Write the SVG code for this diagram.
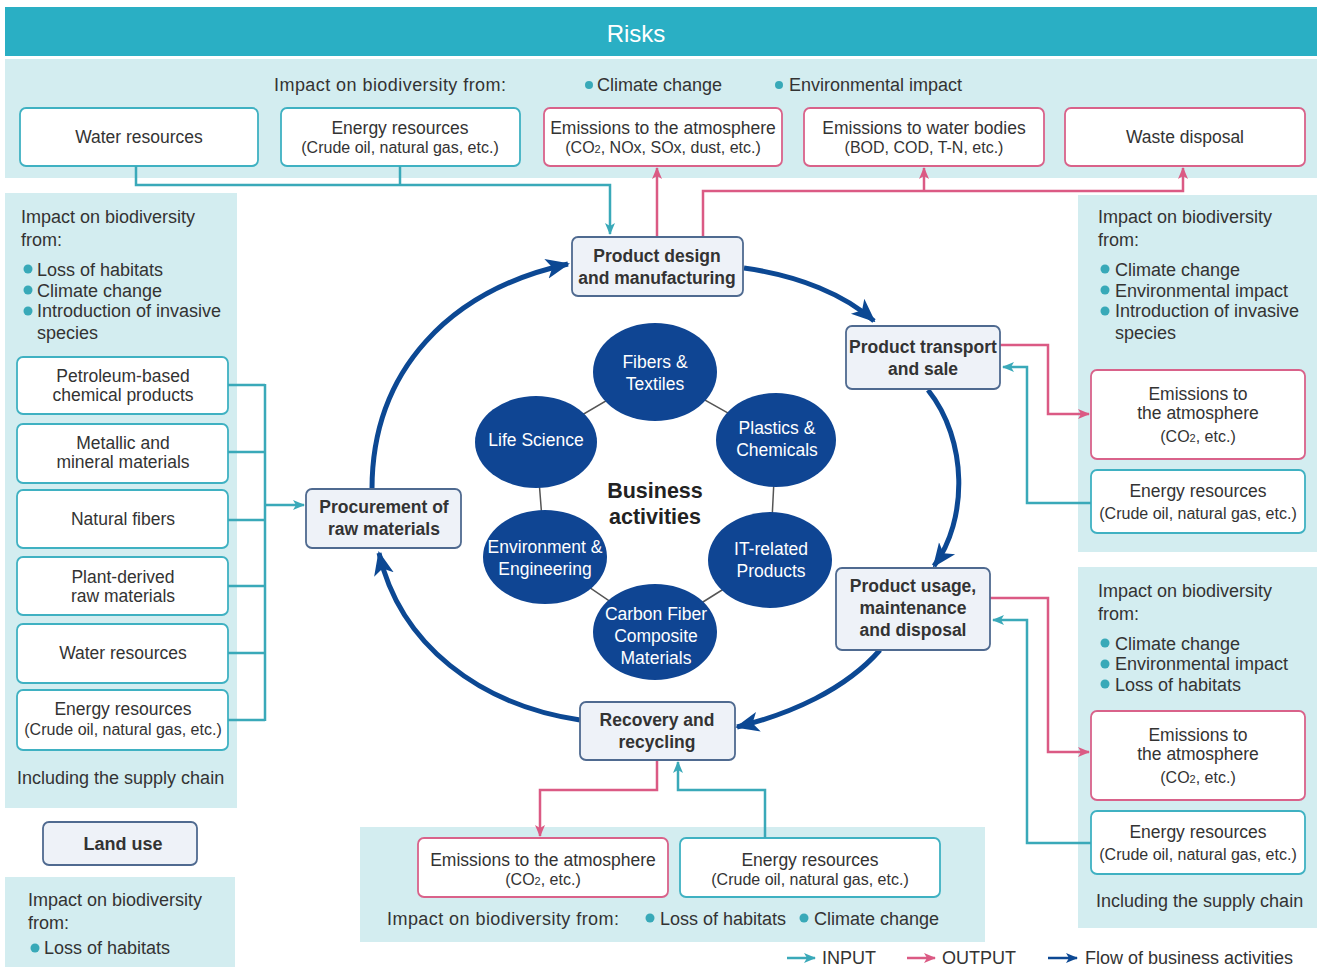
<svg xmlns="http://www.w3.org/2000/svg" width="1317" height="967" viewBox="0 0 1317 967">
<defs>
<style>
text{font-family:"Liberation Sans",Arial,sans-serif;fill:#333}
.t{font-size:17.5px;text-anchor:middle}
.s{font-size:16px}
.l{font-size:18px}
.b{font-size:17.5px;font-weight:bold;text-anchor:middle;fill:#333}
.w{font-size:17.5px;text-anchor:middle;fill:#fff}
.panel{fill:#d3edf0}
.bt{fill:#fff;stroke:#3fb1c2;stroke-width:1.8}
.bp{fill:#fff;stroke:#d9628a;stroke-width:1.8}
.proc{fill:#eef2f8;stroke:#4f6a90;stroke-width:1.8}
.ell{fill:#0f4593}
.dot{fill:#38a9b8}
.ci{fill:none;stroke:#3aa9b9;stroke-width:2.5}
.co{fill:none;stroke:#db5a84;stroke-width:2.5}
.cf{fill:none;stroke:#0c4893;stroke-width:5}
.lk{stroke:#555;stroke-width:1.5}
</style>
<marker id="ai" markerUnits="userSpaceOnUse" markerWidth="12" markerHeight="12" viewBox="0 0 12 12" refX="11" refY="6" orient="auto"><path d="M0,1 L12,6 L0,11 L3,6 Z" fill="#3aa9b9"/></marker>
<marker id="ao" markerUnits="userSpaceOnUse" markerWidth="12" markerHeight="12" viewBox="0 0 12 12" refX="11" refY="6" orient="auto"><path d="M0,1 L12,6 L0,11 L3,6 Z" fill="#db5a84"/></marker>
<marker id="ab" markerUnits="userSpaceOnUse" markerWidth="12" markerHeight="12" viewBox="0 0 12 12" refX="11" refY="6" orient="auto"><path d="M0,1 L12,6 L0,11 L3,6 Z" fill="#0c4893"/></marker>
<marker id="af" markerUnits="userSpaceOnUse" markerWidth="24" markerHeight="24" viewBox="0 0 24 24" refX="22" refY="12" orient="auto"><path d="M0,2 L24,12 L0,22 L6,12 Z" fill="#0c4893"/></marker>
</defs>
<rect width="1317" height="967" fill="#fff"/>

<g id="header">
<rect x="5" y="7" width="1312" height="49" fill="#2aafc4"/>
<text x="636" y="42" style="font-size:24px;text-anchor:middle;fill:#fff">Risks</text>
</g>

<g id="panels">
<rect class="panel" x="5" y="59" width="1312" height="119"/>
<rect class="panel" x="5" y="193" width="232" height="615"/>
<rect class="panel" x="1078" y="195" width="239" height="357"/>
<rect class="panel" x="1078" y="567" width="239" height="361"/>
<rect class="panel" x="5" y="877" width="230" height="90"/>
<rect class="panel" x="360" y="827" width="625" height="115"/>
</g>

<g id="top-labels">
<text class="l" x="274" y="91" textLength="232">Impact on biodiversity from:</text>
<circle class="dot" cx="589" cy="85" r="4"/><text class="l" x="597" y="91">Climate change</text>
<circle class="dot" cx="779" cy="85" r="4"/><text class="l" x="789" y="91">Environmental impact</text>
</g>

<g id="top-water"><rect class="bt" x="20" y="108" width="238" height="58" rx="6"/><text class="t" x="139" y="143">Water resources</text></g>
<g id="top-energy"><rect class="bt" x="281" y="108" width="239" height="58" rx="6"/><text class="t" x="400" y="134">Energy resources</text><text class="t s" x="400" y="153">(Crude oil, natural gas, etc.)</text></g>
<g id="top-emis-air"><rect class="bp" x="544" y="108" width="238" height="58" rx="6"/><text class="t" x="663" y="134">Emissions to the atmosphere</text><text class="t s" x="663" y="153">(CO<tspan font-size="11">2</tspan>, NOx, SOx, dust, etc.)</text></g>
<g id="top-emis-water"><rect class="bp" x="804" y="108" width="240" height="58" rx="6"/><text class="t" x="924" y="134">Emissions to water bodies</text><text class="t s" x="924" y="153">(BOD, COD, T-N, etc.)</text></g>
<g id="top-waste"><rect class="bp" x="1065" y="108" width="240" height="58" rx="6"/><text class="t" x="1185" y="143">Waste disposal</text></g>

<g id="left-panel-text">
<text class="l" x="21" y="223">Impact on biodiversity</text>
<text class="l" x="21" y="246">from:</text>
<circle class="dot" cx="28" cy="269" r="4.5"/><text class="l" x="37" y="276">Loss of habitats</text>
<circle class="dot" cx="28" cy="290" r="4.5"/><text class="l" x="37" y="297">Climate change</text>
<circle class="dot" cx="28" cy="311" r="4.5"/><text class="l" x="37" y="317">Introduction of invasive</text>
<text class="l" x="37" y="339">species</text>
<text class="l" x="17" y="784">Including the supply chain</text>
</g>
<g id="left-petro"><rect class="bt" x="17" y="357" width="211" height="57" rx="6"/><text class="t" x="123" y="382">Petroleum-based</text><text class="t" x="123" y="401">chemical products</text></g>
<g id="left-metal"><rect class="bt" x="17" y="424" width="211" height="59" rx="6"/><text class="t" x="123" y="449">Metallic and</text><text class="t" x="123" y="468">mineral materials</text></g>
<g id="left-natural"><rect class="bt" x="17" y="490" width="211" height="58" rx="6"/><text class="t" x="123" y="525">Natural fibers</text></g>
<g id="left-plant"><rect class="bt" x="17" y="557" width="211" height="58" rx="6"/><text class="t" x="123" y="583">Plant-derived</text><text class="t" x="123" y="602">raw materials</text></g>
<g id="left-water"><rect class="bt" x="17" y="624" width="211" height="59" rx="6"/><text class="t" x="123" y="659">Water resources</text></g>
<g id="left-energy"><rect class="bt" x="17" y="690" width="211" height="60" rx="6"/><text class="t" x="123" y="715">Energy resources</text><text class="t s" x="123" y="735">(Crude oil, natural gas, etc.)</text></g>

<g id="land-use"><rect class="proc" x="43" y="822" width="154" height="43" rx="6"/><text class="b" x="123" y="850" style="font-size:18px">Land use</text></g>
<g id="land-panel-text">
<text class="l" x="28" y="906">Impact on biodiversity</text>
<text class="l" x="28" y="929">from:</text>
<circle class="dot" cx="35" cy="948" r="4.5"/><text class="l" x="44" y="954">Loss of habitats</text>
</g>

<g id="right1-text">
<text class="l" x="1098" y="223">Impact on biodiversity</text>
<text class="l" x="1098" y="246">from:</text>
<circle class="dot" cx="1105" cy="269" r="4.5"/><text class="l" x="1115" y="276">Climate change</text>
<circle class="dot" cx="1105" cy="290" r="4.5"/><text class="l" x="1115" y="297">Environmental impact</text>
<circle class="dot" cx="1105" cy="311" r="4.5"/><text class="l" x="1115" y="317">Introduction of invasive</text>
<text class="l" x="1115" y="339">species</text>
</g>
<g id="right1-emis"><rect class="bp" x="1091" y="370" width="214" height="89" rx="6"/><text class="t" x="1198" y="400">Emissions to</text><text class="t" x="1198" y="419">the atmosphere</text><text class="t s" x="1198" y="442">(CO<tspan font-size="11">2</tspan>, etc.)</text></g>
<g id="right1-energy"><rect class="bt" x="1091" y="470" width="214" height="63" rx="6"/><text class="t" x="1198" y="497">Energy resources</text><text class="t s" x="1198" y="519">(Crude oil, natural gas, etc.)</text></g>

<g id="right2-text">
<text class="l" x="1098" y="597">Impact on biodiversity</text>
<text class="l" x="1098" y="620">from:</text>
<circle class="dot" cx="1105" cy="643" r="4.5"/><text class="l" x="1115" y="650">Climate change</text>
<circle class="dot" cx="1105" cy="664" r="4.5"/><text class="l" x="1115" y="670">Environmental impact</text>
<circle class="dot" cx="1105" cy="684" r="4.5"/><text class="l" x="1115" y="691">Loss of habitats</text>
<text class="l" x="1096" y="907">Including the supply chain</text>
</g>
<g id="right2-emis"><rect class="bp" x="1091" y="711" width="214" height="89" rx="6"/><text class="t" x="1198" y="741">Emissions to</text><text class="t" x="1198" y="760">the atmosphere</text><text class="t s" x="1198" y="783">(CO<tspan font-size="11">2</tspan>, etc.)</text></g>
<g id="right2-energy"><rect class="bt" x="1091" y="811" width="214" height="63" rx="6"/><text class="t" x="1198" y="838">Energy resources</text><text class="t s" x="1198" y="860">(Crude oil, natural gas, etc.)</text></g>

<g id="bottom-emis"><rect class="bp" x="418" y="838" width="250" height="59" rx="6"/><text class="t" x="543" y="866">Emissions to the atmosphere</text><text class="t s" x="543" y="885">(CO<tspan font-size="11">2</tspan>, etc.)</text></g>
<g id="bottom-energy"><rect class="bt" x="680" y="838" width="260" height="59" rx="6"/><text class="t" x="810" y="866">Energy resources</text><text class="t s" x="810" y="885">(Crude oil, natural gas, etc.)</text></g>
<g id="bottom-text">
<text class="l" x="387" y="925" textLength="232">Impact on biodiversity from:</text>
<circle class="dot" cx="650" cy="918" r="4.5"/><text class="l" x="660" y="925">Loss of habitats</text>
<circle class="dot" cx="804" cy="918" r="4.5"/><text class="l" x="814" y="925">Climate change</text>
</g>

<g id="connectors">
<path class="ci" d="M136,166 V185 H610 V234" marker-end="url(#ai)"/>
<path class="ci" d="M400,166 V185"/>
<path class="co" d="M657,237 V168" marker-end="url(#ao)"/>
<path class="co" d="M703,237 V191 H1183 V168" marker-end="url(#ao)"/>
<path class="co" d="M924,191 V168" marker-end="url(#ao)"/>
<path class="ci" d="M228,385 H265 M228,452 H265 M228,520 H265 M228,586 H265 M228,653 H265 M228,720 H265 M265,384 V721"/>
<path class="ci" d="M265,505 H304" marker-end="url(#ai)"/>
<path class="co" d="M1000,345 H1048 V414 H1089" marker-end="url(#ao)"/>
<path class="ci" d="M1091,503 H1027 V367 H1003" marker-end="url(#ai)"/>
<path class="co" d="M990,598 H1048 V752 H1089" marker-end="url(#ao)"/>
<path class="ci" d="M1091,843 H1027 V620 H993" marker-end="url(#ai)"/>
<path class="co" d="M657,760 V790 H540 V836" marker-end="url(#ao)"/>
<path class="ci" d="M765,838 V790 H678 V762" marker-end="url(#ai)"/>
<path class="cf" d="M372,489 C372,370 450,290 568,264" marker-end="url(#af)"/>
<path class="cf" d="M744,268 C800,276 845,295 874,321" marker-end="url(#af)"/>
<path class="cf" d="M928,390 C968,440 968,520 934,566" marker-end="url(#af)"/>
<path class="cf" d="M880,650 C845,690 790,714 737,727" marker-end="url(#af)"/>
<path class="cf" d="M580,720 C480,705 400,645 379,553" marker-end="url(#af)"/>
<path class="lk" d="M655,372 L776,440 L770,560 L655,632 L545,557 L536,442 Z" fill="none"/>
</g>

<g id="proc-design"><rect class="proc" x="572" y="237" width="171" height="59" rx="6"/><text class="b" x="657" y="262">Product design</text><text class="b" x="657" y="284">and manufacturing</text></g>
<g id="proc-transport"><rect class="proc" x="846" y="326" width="154" height="63" rx="6"/><text class="b" x="923" y="353">Product transport</text><text class="b" x="923" y="375">and sale</text></g>
<g id="proc-usage"><rect class="proc" x="836" y="568" width="154" height="82" rx="6"/><text class="b" x="913" y="592">Product usage,</text><text class="b" x="913" y="614">maintenance</text><text class="b" x="913" y="636">and disposal</text></g>
<g id="proc-recovery"><rect class="proc" x="580" y="702" width="155" height="58" rx="6"/><text class="b" x="657" y="726">Recovery and</text><text class="b" x="657" y="748">recycling</text></g>
<g id="proc-procure"><rect class="proc" x="306" y="489" width="155" height="59" rx="6"/><text class="b" x="384" y="513">Procurement of</text><text class="b" x="384" y="535">raw materials</text></g>

<g id="biz-fibers"><ellipse class="ell" cx="655" cy="372" rx="62" ry="49"/><text class="w" x="655" y="368">Fibers &amp;</text><text class="w" x="655" y="390">Textiles</text></g>
<g id="biz-plastics"><ellipse class="ell" cx="776" cy="440" rx="60" ry="47"/><text class="w" x="777" y="434">Plastics &amp;</text><text class="w" x="777" y="456">Chemicals</text></g>
<g id="biz-life"><ellipse class="ell" cx="536" cy="442" rx="61" ry="46"/><text class="w" x="536" y="446">Life Science</text></g>
<g id="biz-env"><ellipse class="ell" cx="545" cy="557" rx="62" ry="47"/><text class="w" x="545" y="553">Environment &amp;</text><text class="w" x="545" y="575">Engineering</text></g>
<g id="biz-it"><ellipse class="ell" cx="770" cy="560" rx="62" ry="48"/><text class="w" x="771" y="555">IT-related</text><text class="w" x="771" y="577">Products</text></g>
<g id="biz-carbon"><ellipse class="ell" cx="655" cy="632" rx="62" ry="48"/><text class="w" x="656" y="620">Carbon Fiber</text><text class="w" x="656" y="642">Composite</text><text class="w" x="656" y="664">Materials</text></g>
<g id="biz-center"><text x="655" y="498" style="font-size:21.5px;font-weight:bold;text-anchor:middle;fill:#222">Business</text><text x="655" y="524" style="font-size:21.5px;font-weight:bold;text-anchor:middle;fill:#222">activities</text></g>

<g id="legend">
<path class="ci" d="M787,958 H815" marker-end="url(#ai)"/>
<text class="l" x="822" y="964">INPUT</text>
<path class="co" d="M907,958 H935" marker-end="url(#ao)"/>
<text class="l" x="942" y="964">OUTPUT</text>
<path d="M1048,958 H1077" fill="none" stroke="#0c4893" stroke-width="2.5" marker-end="url(#ab)"/>
<text class="l" x="1085" y="964">Flow of business activities</text>
</g>
</svg>
